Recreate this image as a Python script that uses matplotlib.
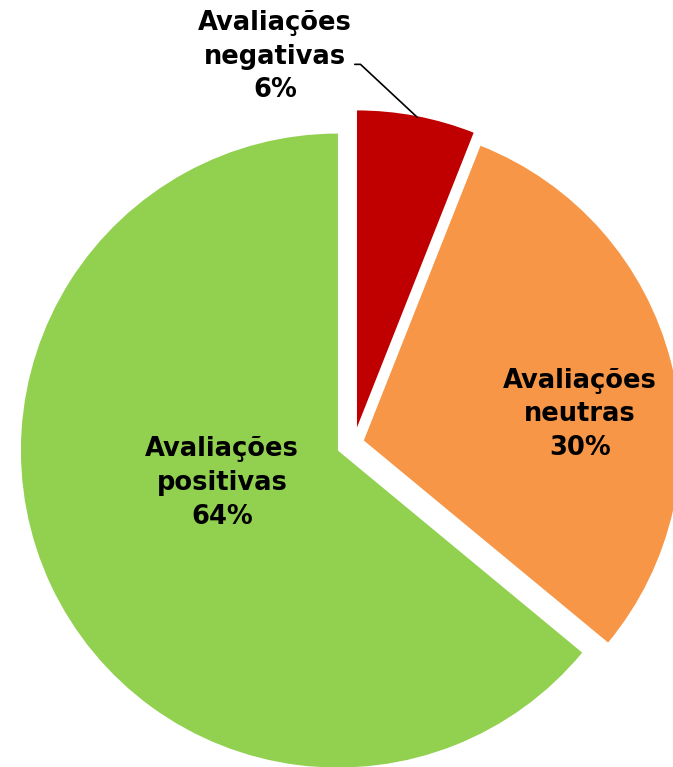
import numpy as np
import matplotlib.pyplot as plt

labels = ["Avaliações\nnegativas", "Avaliações\nneutras", "Avaliações\npositivas"]
values = [6, 30, 64]
colors = ["#C00000", "#F79646", "#92D050"]
explode = [0.05, 0.032, 0.056]

fig = plt.figure(figsize=(6.73, 7.67), dpi=100)
ax = fig.add_axes([0, 0, 1, 1])

wedges, _ = ax.pie(values, colors=colors, explode=explode, startangle=90,
                   counterclock=False, radius=1.0,
                   wedgeprops=dict(linewidth=0))

font = dict(fontsize=18.5, fontweight="bold", ha="center", va="center",
            family="DejaVu Sans", linespacing=1.38)

# labels inside
ax.text(-0.416, -0.126, f"{labels[2]}\n{values[2]}%", **font)
ax.text(0.713, 0.091, f"{labels[1]}\n{values[1]}%", **font)

# negative label outside with leader line
ax.annotate(f"{labels[0]}\n{values[0]}%", xy=(0.199, 1.028), xytext=(-0.249, 1.218),
            arrowprops=dict(arrowstyle="-", color="black", lw=1.2,
                            connectionstyle="angle,angleA=0,angleB=-43,rad=0",
                            shrinkA=0, shrinkB=0,
                            relpos=(1.0, 0.42)),
            **font)

ax.set_xlim(-354 / 317, 319 / 317)
ax.set_ylim(-324 / 317, 443 / 317)
ax.set_aspect("equal")
ax.axis("off")

plt.savefig("out.png", dpi=100)
